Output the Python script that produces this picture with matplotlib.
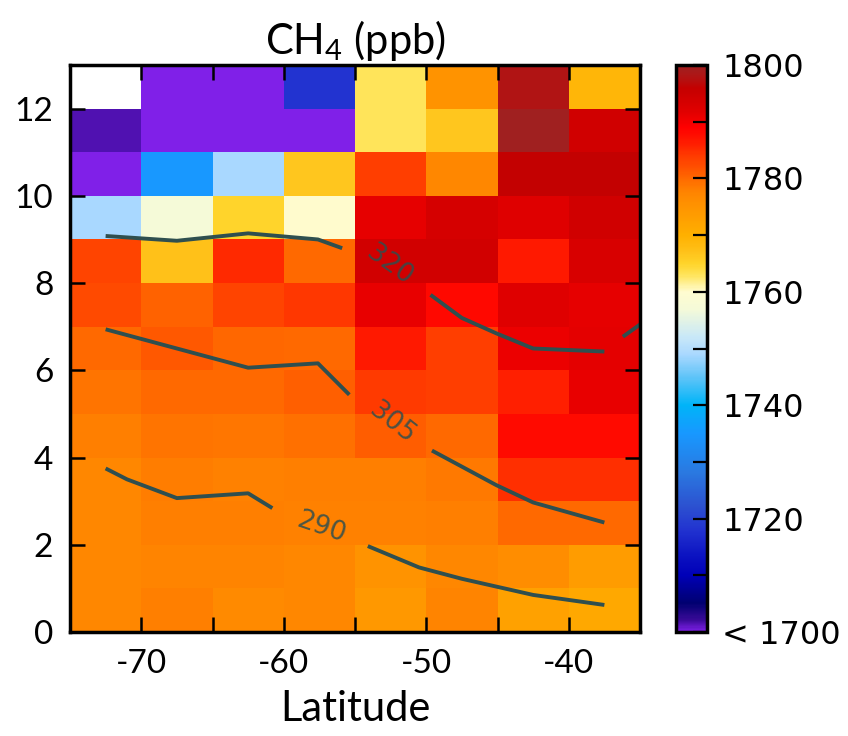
import numpy as np
import matplotlib
matplotlib.use("Agg")
import matplotlib.pyplot as plt
from matplotlib.colors import LinearSegmentedColormap, Normalize

# ---------------- data ----------------
lat_edges = [-75, -70, -65, -60, -55, -50, -45, -40, -35]
alt_edges = [0, 1, 2, 3, 4, 5, 6, 7, 8, 9, 10, 11, 12, 13]

# CH4 (ppb), rows from 0-1 km (first) up to 12-13 km (last); columns -75..-35
ch4_ppb = [
    [1777.0, 1778.0, 1776.7, 1777.0, 1774.3, 1777.5, 1772.5, 1771.4],
    [1777.0, 1777.5, 1777.5, 1777.0, 1775.0, 1777.0, 1776.0, 1773.6],
    [1777.0, 1778.0, 1778.0, 1777.8, 1777.8, 1778.0, 1780.0, 1780.0],
    [1777.0, 1778.3, 1777.8, 1778.0, 1778.0, 1778.6, 1784.9, 1784.9],
    [1778.0, 1779.1, 1778.8, 1779.4, 1781.0, 1780.0, 1788.0, 1788.0],
    [1779.1, 1780.0, 1780.0, 1780.8, 1784.0, 1783.6, 1786.0, 1791.1],
    [1780.0, 1781.4, 1780.2, 1780.0, 1786.6, 1783.6, 1790.8, 1791.6],
    [1782.6, 1780.6, 1783.2, 1784.2, 1791.1, 1788.2, 1792.0, 1791.4],
    [1783.2, 1767.0, 1785.3, 1780.0, 1794.0, 1794.0, 1786.6, 1793.1],
    [1749.0, 1757.0, 1765.0, 1760.0, 1791.3, 1793.4, 1792.0, 1794.3],
    [1695.0, 1735.0, 1749.0, 1766.5, 1783.6, 1777.0, 1796.0, 1796.0],
    [1701.5, 1695.0, 1695.0, 1695.0, 1763.0, 1766.5, 1800.0, 1794.3],
    [np.nan, 1695.0, 1695.0, 1718.0, 1763.0, 1775.0, 1798.0, 1769.0],
]

# potential-temperature contour lines (K): latitude / altitude vertices (NaN = gap)
theta_levels = [290, 305, 320]
c290_lat = [-72.5, -71.0, -67.5, -62.5, -60.8, np.nan, -54.1, -50.5, -47.5, -42.5, -37.5]
c290_alt = [3.75, 3.5, 3.07, 3.18, 2.84, np.nan, 1.97, 1.48, 1.22, 0.85, 0.62]
c305_lat = [-72.5, -67.5, -62.5, -57.6, -55.4, np.nan, -49.6, -45.1, -42.5, -37.5]
c305_alt = [6.94, 6.5, 6.06, 6.16, 5.44, np.nan, 4.16, 3.37, 2.97, 2.51]
c320_lat = [-72.5, -67.5, -62.5, -57.6, -55.9, np.nan, -49.7, -47.5, -45.1, -42.5, -37.5,
            np.nan, -36.2, -35.0]
c320_alt = [9.08, 8.97, 9.14, 9.0, 8.8, np.nan, 7.73, 7.2, 6.85, 6.5, 6.43,
            np.nan, 6.77, 7.05]
label_lat = [-57.4, -52.4, -52.6]
label_alt = [2.4, 4.8, 8.42]
label_rot = [-19, -38, -36]

x_ticks = [-75, -70, -65, -60, -55, -50, -45, -40, -35]
x_ticklabels = ["", "-70", "", "-60", "", "-50", "", "-40", ""]
y_ticks = [0, 2, 4, 6, 8, 10, 12]
cb_ticks = [1700, 1710, 1720, 1730, 1740, 1750, 1760, 1770, 1780, 1790, 1800]
cb_ticklabels = ["< 1700", "", "1720", "", "1740", "", "1760", "", "1780", "", "1800"]

# ---------------- style ----------------
plt.rcParams["mathtext.default"] = "regular"
axfont = ["Lato", "DejaVu Sans"]

anchors = [
    (1700, "#8020e8"), (1702, "#3a0a98"), (1705, "#000070"), (1710, "#0000b8"),
    (1713, "#0a10c0"), (1718, "#2233d0"), (1722, "#2c50d0"), (1728, "#2a78e0"),
    (1735, "#1898ff"), (1740, "#00b4f8"), (1745, "#60c4f8"), (1749, "#aad8ff"),
    (1752, "#c8e8f8"), (1757, "#f5fad8"), (1760, "#fffcd0"), (1763, "#ffe45a"),
    (1765, "#ffd42a"), (1767, "#ffc21a"), (1770, "#ffb000"), (1775, "#ff9400"),
    (1777, "#ff8800"), (1778, "#ff8000"), (1780, "#ff6a00"), (1782, "#ff5000"),
    (1784, "#ff3c00"), (1786, "#ff2000"), (1789, "#ff0000"), (1792, "#e00000"),
    (1794, "#d20000"), (1796, "#c40000"), (1798, "#b01414"), (1800, "#a02020"),
]
vmin, vmax = 1700, 1800
cmap = LinearSegmentedColormap.from_list(
    "ch4", [((v - vmin) / (vmax - vmin), c) for v, c in anchors], N=512)
cmap.set_under("#8020e8")
cmap.set_over("#a02020")
cmap.set_bad("white")
norm = Normalize(vmin=vmin, vmax=vmax)

fig = plt.figure(figsize=(8.48, 7.36), dpi=100)
W, H = 848, 736
ax = fig.add_axes([70 / W, 1 - 632 / H, 570 / W, 567 / H])

data = np.ma.masked_invalid(np.array(ch4_ppb))
mesh = ax.pcolormesh(lat_edges, alt_edges, data, cmap=cmap, norm=norm, shading="flat")

line_color = "#2f4f4f"
for la, al in [(c290_lat, c290_alt), (c305_lat, c305_alt), (c320_lat, c320_alt)]:
    ax.plot(la, al, color=line_color, lw=2.8, solid_capstyle="butt", clip_on=True)
for lev, lx, ly, rot in zip(theta_levels, label_lat, label_alt, label_rot):
    ax.text(lx, ly, str(lev), color=line_color, fontsize=19, rotation=rot,
            ha="center", va="center", alpha=0.85, family="DejaVu Sans")

ax.set_xlim(-75, -35)
ax.set_ylim(0, 13)
ax.set_xticks(x_ticks)
ax.set_xticklabels(x_ticklabels)
ax.set_yticks(y_ticks)
ax.tick_params(direction="in", length=11, width=1.8, top=True, right=True,
               labelsize=24, pad=12)
for lab in ax.get_xticklabels() + ax.get_yticklabels():
    lab.set_family(axfont)
for s in ax.spines.values():
    s.set_linewidth(2.5)

ax.set_xlabel("Latitude", fontsize=30, family=axfont, labelpad=8)
ax.set_title("CH$_4$ (ppb)", fontsize=30, family=axfont, pad=8)

# colorbar
cax = fig.add_axes([676 / W, 1 - 632 / H, 31 / W, 567 / H])
cb = fig.colorbar(mesh, cax=cax, ticks=cb_ticks)
cb.ax.set_yticklabels(cb_ticklabels)
cb.ax.tick_params(direction="in", length=10, width=1.6, labelsize=23, pad=11,
                  right=True, left=False)
for lab in cb.ax.get_yticklabels():
    lab.set_family("DejaVu Sans")
cb.outline.set_linewidth(2.5)
cb.ax.minorticks_off()

fig.savefig("out.png", dpi=100)
